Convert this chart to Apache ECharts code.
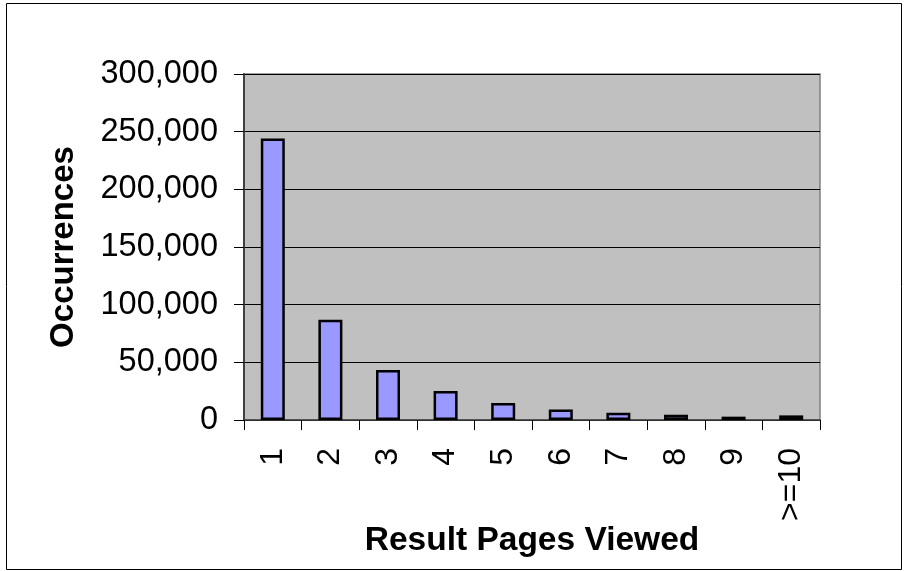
<!DOCTYPE html>
<html>
<head>
<meta charset="utf-8">
<script src="https://cdn.jsdelivr.net/npm/echarts@6/dist/echarts.min.js"></script>
<style>
html,body{margin:0;padding:0;background:#fff;}
#chart{width:904px;height:571px;}
</style>
</head>
<body>
<div id="chart"></div>
<script>
const categories = ['1','2','3','4','5','6','7','8','9','>=10'];
const occurrences = [244000, 87000, 43300, 25100, 14700, 9200, 6300, 4600, 2900, 4000];
const yTicks = { min: 0, max: 300000, interval: 50000 };
const xTitle = 'Result Pages Viewed';
const yTitle = 'Occurrences';

const FONT = '"Liberation Sans", Arial, sans-serif';
const chart = echarts.init(document.getElementById('chart'), null, {renderer:'canvas'});
chart.setOption({
  animation: false,
  backgroundColor: '#ffffff',
  grid: {
    left: 244, top: 74, right: 84, bottom: 151,
    show: true, backgroundColor: '#C0C0C0', borderColor: '#808080', borderWidth: 1.5
  },
  graphic: [{
    type: 'rect',
    shape: { x: 6.5, y: 3.5, width: 895, height: 566 },
    style: { fill: 'none', stroke: '#000', lineWidth: 1 },
    silent: true
  }],
  xAxis: {
    type: 'category',
    data: categories,
    name: xTitle,
    nameLocation: 'middle',
    nameGap: 104,
    nameMoveOverlap: false,
    nameTextStyle: { fontFamily: FONT, fontSize: 33.5, fontWeight: 'bold', color: '#000' },
    axisLine: { show: true, lineStyle: { color: '#404040', width: 1.5 } },
    axisTick: { show: true, length: 10, lineStyle: { color: '#000', width: 1 } },
    axisLabel: { rotate: 90, margin: 28, fontFamily: FONT, fontSize: 32, color: '#000' },
    splitLine: { show: false }
  },
  yAxis: {
    type: 'value',
    min: yTicks.min, max: yTicks.max, interval: yTicks.interval,
    name: yTitle,
    nameLocation: 'middle',
    nameGap: 164,
    nameMoveOverlap: false,
    nameRotate: 90,
    nameTextStyle: { fontFamily: FONT, fontSize: 33, fontWeight: 'bold', color: '#000' },
    axisLine: { show: true, lineStyle: { color: '#404040', width: 2 } },
    axisTick: { show: true, length: 10, lineStyle: { color: '#000', width: 1 } },
    axisLabel: {
      margin: 26, fontFamily: FONT, fontSize: 32.5, color: '#000',
      formatter: v => v.toLocaleString('en-US')
    },
    splitLine: { show: true, lineStyle: { color: '#000', width: 1 } }
  },
  series: [{
    type: 'bar',
    data: occurrences,
    barWidth: 24,
    itemStyle: { color: '#9999FF', borderColor: '#000', borderWidth: 2.5 }
  }]
});
</script>
</body>
</html>
